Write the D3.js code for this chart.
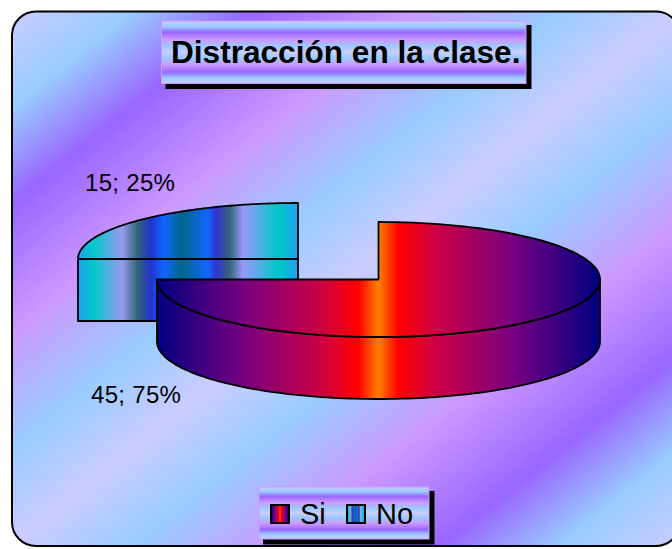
<!DOCTYPE html>
<html><head><meta charset="utf-8">
<style>html,body{margin:0;padding:0;background:#fff;overflow:hidden}svg{display:block}text{font-family:"Liberation Sans",Arial,sans-serif;fill:#000}</style>
<script src="https://cdn.jsdelivr.net/npm/d3@7"></script>
</head><body><div id="c"></div>
<script>
const categories = ["Si", "No"];
const values = [45, 15];
const chartTitle = "Distracción en la clase.";

const W = 672, H = 549;
const svg = d3.select("#c").append("svg").attr("width", W).attr("height", H);
const defs = svg.append("defs");

function gradient(id, stops, attrs) {
  const g = defs.append("linearGradient").attr("id", id);
  Object.entries(attrs).forEach(([k, v]) => g.attr(k, v));
  stops.forEach(([o, c]) => g.append("stop").attr("offset", o).attr("stop-color", c));
}
const nightfall = [[0,"#ccccff"],[.09,"#99ccff"],[.18,"#9966ff"],[.3,"#cc99ff"],[.41,"#99ccff"],[.5,"#ccccff"],
                   [.59,"#99ccff"],[.7,"#cc99ff"],[.82,"#9966ff"],[.91,"#99ccff"],[1,"#ccccff"]];
gradient("bg", nightfall, {x1:0,y1:0,x2:1,y2:1});
gradient("band", nightfall, {x1:0,y1:0,x2:0,y2:1});

const fire = [[0,"#000080"],[.2,"#7a007f"],[.37,"#cc0044"],[.455,"#ff0000"],[.5,"#ff8000"],
              [.545,"#ff0000"],[.63,"#cc0044"],[.8,"#7a007f"],[1,"#000080"]];
const peacock = [[0,"#20a0f0"],[.07,"#00c8c8"],[.2,"#9999f0"],[.27,"#336677"],[.33,"#2233cc"],[.39,"#1166ff"],
                 [.47,"#006688"],[.59,"#1166ff"],[.63,"#3333cc"],[.69,"#336677"],[.75,"#9999ff"],[.91,"#00c8c8"],[1,"#20a0f0"]];

// Pie geometry comes from the values through d3.pie; the tilted ellipse comes from two linear scales.
const pie = d3.pie().sort(null).value(d => d)(values);
const px = [
  {x: d3.scaleLinear().domain([-1,1]).range([157,600]), y: d3.scaleLinear().domain([-1,1]).range([222,337]), depth: 62},
  {x: d3.scaleLinear().domain([-1,0]).range([78,298]), y: d3.scaleLinear().domain([-1,0]).range([203,259]), depth: 62}
];
gradient("fire", fire, {gradientUnits:"userSpaceOnUse", x1:px[0].x(-1), x2:px[0].x(1), y1:0, y2:0});
gradient("peacock", peacock, {gradientUnits:"userSpaceOnUse", x1:px[1].x(-1), x2:px[1].x(0), y1:0, y2:0});
const fills = ["url(#fire)", "url(#peacock)"];

const rim = (s, a0, a1, dy) => d3.range(0, 121).map(i => {
  const a = a0 + (a1 - a0) * i / 120;
  return [s.x(Math.sin(a)), s.y(-Math.cos(a)) + dy];
});
const line = d3.line();
const stroke = {stroke:"#000", "stroke-width":1.8, "stroke-linejoin":"round"};
const draw = (sel, d, fill) => {
  const p = sel.append("path").attr("d", d).attr("fill", fill);
  Object.entries(stroke).forEach(([k, v]) => p.attr(k, v));
};

// Frame
svg.append("rect").attr("x",12).attr("y",11.5).attr("width",668).attr("height",534.5).attr("rx",24).attr("ry",24)
  .attr("fill","url(#bg)").attr("stroke","#000").attr("stroke-width",2);

const plot = svg.append("g");
// Exploded slice (No) behind
{
  const s = px[1], d = pie[1];
  const cx = s.x(0), cy = s.y(0);
  draw(plot, line([[cx,cy],...rim(s,d.startAngle,d.endAngle,0)]) + "Z", fills[1]);
  const L = rim(s,d.startAngle,d.startAngle,0)[0];
  draw(plot, line([L,[cx,L[1]],[cx,L[1]+s.depth],[L[0],L[1]+s.depth]]) + "Z", fills[1]);
}
// Main slice (Si)
{
  const s = px[0], d = pie[0];
  const cx = s.x(0), cy = s.y(0);
  const front = rim(s, Math.PI/2, d.endAngle, 0);
  const wall = [...front, ...front.slice().reverse().map(p => [p[0], p[1]+s.depth])];
  draw(plot, line(wall) + "Z", fills[0]);
  draw(plot, line([[cx,cy],...rim(s,d.startAngle,d.endAngle,0)]) + "Z", fills[0]);
}

// Data labels
const total = d3.sum(values);
const labelAnchors = [[91,403],[85,191]];
plot.selectAll("text.lab").data(values).join("text").attr("class","lab")
  .attr("x",(d,i)=>labelAnchors[i][0]).attr("y",(d,i)=>labelAnchors[i][1])
  .attr("font-size",24).attr("letter-spacing",0.3)
  .text(d => `${d}; ${Math.round(d/total*100)}%`);

// Title
const box = (x,y,w,h) => {
  svg.append("rect").attr("x",x+4).attr("y",y+4).attr("width",w+1.5).attr("height",h+1.5).attr("fill","#000");
  svg.append("rect").attr("x",x).attr("y",y).attr("width",w).attr("height",h)
     .attr("fill","url(#band)").attr("stroke","#cc99ff").attr("stroke-width",1);
};
box(161.5,21,364.5,62.5);
svg.append("text").attr("x",171).attr("y",63).attr("font-size",31.6).attr("font-weight","bold").text(chartTitle);

// Legend
box(259,487,170,52);
const legendX = [271,347];
const sw = svg.selectAll("g.leg").data(categories).join("g").attr("class","leg")
  .attr("transform",(d,i)=>`translate(${legendX[i]},505)`);
gradient("lf", fire, {x1:0,x2:1,y1:0,y2:0});
gradient("lp", peacock, {x1:0,x2:1,y1:0,y2:0});
sw.append("rect").attr("width",18).attr("height",18).attr("fill",(d,i)=>i?"url(#lp)":"url(#lf)")
  .attr("stroke","#000").attr("stroke-width",2);
sw.append("text").attr("x",29).attr("y",18.5).attr("font-size",29).text(d=>d);
</script></body></html>
